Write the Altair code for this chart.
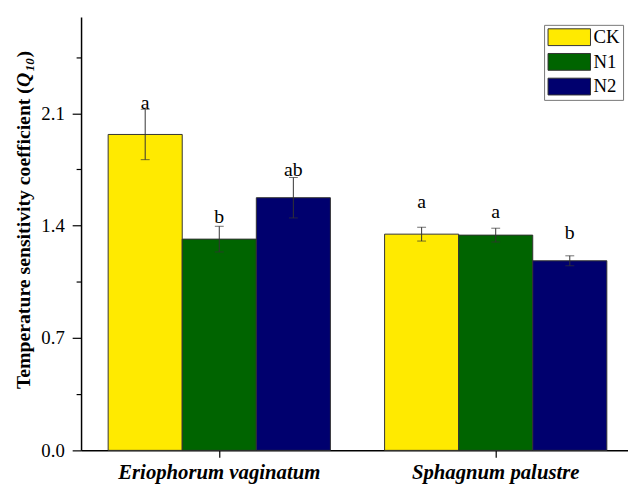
import altair as alt
import pandas as pd

species = ["Eriophorum vaginatum"] * 3 + ["Sphagnum palustre"] * 3
treatments = ["CK", "N1", "N2"] * 2
q10 = [1.968, 1.316, 1.574, 1.347, 1.341, 1.181]
se = [0.157, 0.080, 0.126, 0.043, 0.043, 0.031]
letters = ["a", "b", "ab", "a", "a", "b"]
letter_y = [2.128, 1.415, 1.71, 1.513, 1.445, 1.316]
colors = ["#FFEA00", "#006400", "#00006E"]
y_ticks = [0.0, 0.35, 0.7, 1.05, 1.4, 1.75, 2.1, 2.45]

df = pd.DataFrame({
    "species": species, "treatment": treatments, "q10": q10,
    "lo": [v - e for v, e in zip(q10, se)],
    "hi": [v + e for v, e in zip(q10, se)],
    "letter": letters, "ly": letter_y,
})

FONT = "Liberation Serif"
major = "abs(datum.value/0.7 - round(datum.value/0.7)) < 0.001"

x_enc = alt.X("species:N", sort=species[::3],
              scale=alt.Scale(range=[0, 560], paddingInner=0.196, paddingOuter=0.098),
              axis=alt.Axis(title=None, labelFontWeight="bold", labelFontStyle="italic",
                            labelFontSize=21, labelPadding=4, tickSize=7, labelAngle=0,
                            labelLimit=0))
xo = alt.XOffset("treatment:N", sort=["CK", "N1", "N2"])
y_scale = alt.Scale(domain=[0, 2.7], nice=False)

base = alt.Chart(df)

bars = base.mark_bar(stroke="#333333", strokeWidth=1).encode(
    x=x_enc, xOffset=xo,
    y=alt.Y("q10:Q", scale=y_scale,
            axis=alt.Axis(title=None, values=y_ticks, labelFontSize=19,
                          labelExpr=f"{major} ? format(datum.value, '.1f') : ''",
                          tickSize={"condition": {"test": major, "value": 9}, "value": 5},
                          grid=False, labelPadding=8)),
    color=alt.Color("treatment:N", scale=alt.Scale(domain=["CK", "N1", "N2"], range=colors),
                    legend=alt.Legend(title=None,
                                      labelExpr="datum.label + '\u00a0\u00a0'")),
)

rules = base.mark_rule(color="#333333", strokeWidth=1).encode(
    x=x_enc, xOffset=xo, y=alt.Y("lo:Q", scale=y_scale), y2="hi:Q")
tick_hi = base.mark_tick(orient="horizontal", size=9, thickness=1, color="#333333").encode(
    x=x_enc, xOffset=xo, y=alt.Y("hi:Q", scale=y_scale))
tick_lo = base.mark_tick(orient="horizontal", size=9, thickness=1, color="#333333").encode(
    x=x_enc, xOffset=xo, y=alt.Y("lo:Q", scale=y_scale))
texts = base.mark_text(font=FONT, fontSize=20, baseline="alphabetic", color="black").encode(
    x=x_enc, xOffset=xo, y=alt.Y("ly:Q", scale=y_scale), text="letter:N")

# y-axis title pieces (bold, with italic Q and subscript 10)
title_main = alt.Chart(pd.DataFrame({"t": ["Temperature sensitivity coefficient ("]})).mark_text(
    font=FONT, fontSize=20, fontWeight="bold", angle=270, align="right", baseline="middle",
    color="black").encode(x=alt.value(-58), y=alt.value(71), text="t:N")
title_q = alt.Chart(pd.DataFrame({"t": ["Q"]})).mark_text(
    font=FONT, fontSize=20, fontWeight="bold", fontStyle="italic", angle=270, align="left",
    baseline="middle", color="black").encode(x=alt.value(-58), y=alt.value(71), text="t:N")
title_sub = alt.Chart(pd.DataFrame({"t": ["10"]})).mark_text(
    font=FONT, fontSize=13, fontWeight="bold", fontStyle="italic", angle=270, align="left",
    baseline="middle", color="black").encode(x=alt.value(-52), y=alt.value(55), text="t:N")
title_close = alt.Chart(pd.DataFrame({"t": [")"]})).mark_text(
    font=FONT, fontSize=20, fontWeight="bold", angle=270, align="left",
    baseline="middle", color="black").encode(x=alt.value(-58), y=alt.value(41), text="t:N")

chart = alt.layer(bars, rules, tick_hi, tick_lo, texts,
                  title_main, title_q, title_sub, title_close).properties(
    width=554, height=439, autosize="none",
    padding={"left": 74, "top": 6, "right": 0, "bottom": 32},
).configure_view(stroke=None).configure_axis(
    labelFont=FONT, labelColor="black", domainColor="black", domainWidth=1.5,
    tickColor="black", tickWidth=1.2,
).configure_legend(
    orient="none", legendX=469, legendY=8, strokeColor="#777777", fillColor="white",
    padding=3, symbolType="M-1,-1H4.06V1H-1Z", symbolSize=289,
    symbolStrokeColor="#333333", symbolStrokeWidth=1, labelFont=FONT, labelFontSize=19,
    labelColor="black", rowPadding=4, labelOffset=28,
)

chart.save("out.html", embed_options={"renderer": "svg", "actions": False})
